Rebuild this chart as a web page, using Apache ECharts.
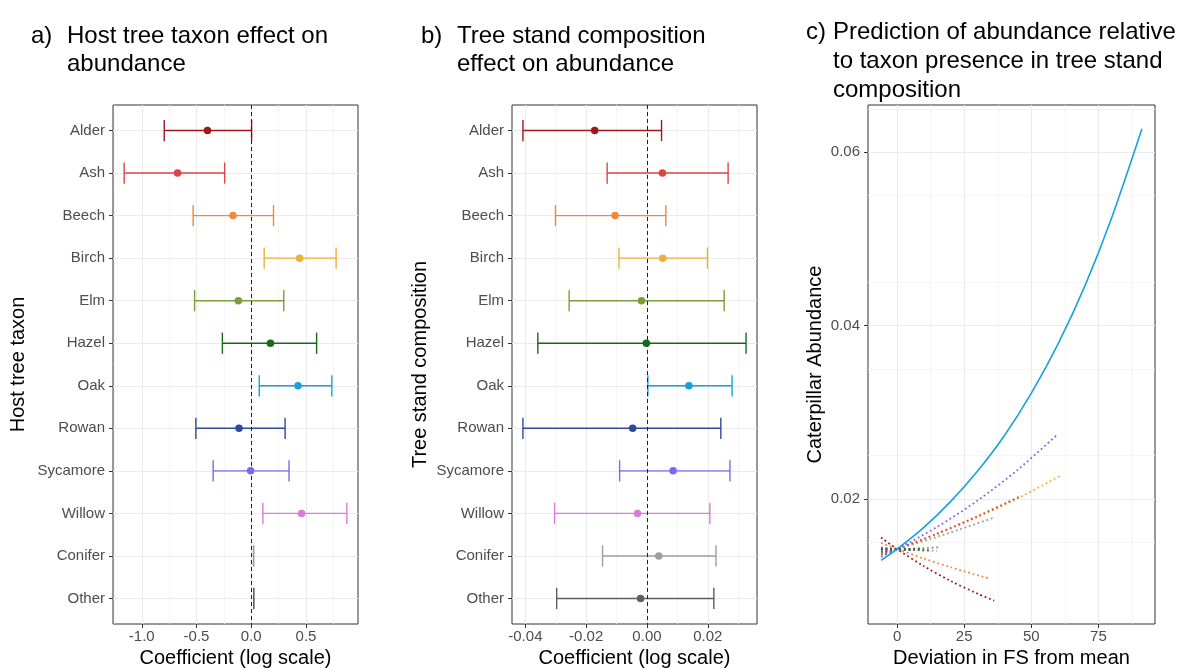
<!DOCTYPE html>
<html><head><meta charset="utf-8">
<script src="https://cdn.jsdelivr.net/npm/echarts@6/dist/echarts.min.js"></script>
<style>html,body{margin:0;padding:0;background:#fff}#c{width:1194px;height:668px}</style>
</head><body><div id="c"></div>
<script>
// ---------- data ----------
const taxa = ['Alder','Ash','Beech','Birch','Elm','Hazel','Oak','Rowan','Sycamore','Willow','Conifer','Other'];
// panel a: host tree taxon effect
const hostEst  = [-0.400,-0.673,-0.167, 0.442,-0.118, 0.175, 0.427,-0.112,-0.006, 0.460, null, null];
const hostLow  = [-0.795,-1.161,-0.531, 0.118,-0.518,-0.264, 0.073,-0.506,-0.348, 0.106, 0.021, 0.022];
const hostHigh = [ 0.003,-0.243, 0.203, 0.775, 0.297, 0.597, 0.736, 0.309, 0.345, 0.873, 0.021, 0.022];
// panel b: tree stand composition effect
const standEst  = [-0.0172, 0.0051,-0.0105, 0.0052,-0.0018,-0.0002, 0.0138,-0.0047, 0.0086,-0.0031, 0.0039,-0.0021];
const standLow  = [-0.0408,-0.0131,-0.0301,-0.0092,-0.0256,-0.0359, 0.0003,-0.0408,-0.0090,-0.0304,-0.0146,-0.0297];
const standHigh = [ 0.0048, 0.0267, 0.0062, 0.0199, 0.0254, 0.0326, 0.0280, 0.0243, 0.0273, 0.0207, 0.0227, 0.0220];
// tick values
const ticksA  = [-1.0,-0.5,0,0.5];
const ticksB  = [-0.04,-0.02,0,0.02];
const ticksCx = [0,25,50,75];
const minorCx = [12.5,37.5,62.5,87.5];
const ticksCy = [0.02,0.04,0.06];
const catIdx  = [0,1,2,3,4,5,6,7,8,9,10,11];
// panel c: predicted abundance vs deviation in FS
const predOak      = [[-5.96,0.0129],[0,0.0142],[10,0.0167],[20,0.0197],[30,0.0232],[40,0.0273],[50,0.0322],[60,0.0379],[70,0.0446],[80,0.0525],[91.2,0.0627]];
const predSycamore = [[-5.96,0.0133],[0,0.0142],[15,0.01677],[30,0.0198],[45,0.02337],[59.3,0.0273]];
const predBirch    = [[-5.96,0.01356],[0,0.0142],[15,0.01593],[30,0.01788],[45,0.02006],[60.8,0.02266]];
const predAsh      = [[-5.96,0.01356],[0,0.0142],[15,0.0160],[30,0.0180],[45.3,0.0202]];
const predConifer  = [[-5.96,0.01368],[0,0.0142],[12,0.01532],[24,0.01653],[36.2,0.01784]];
const predBeech    = [[-5.96,0.0149],[0,0.0142],[10,0.0131],[20,0.0121],[34.7,0.01075]];
const predAlder    = [[-5.96,0.01554],[0,0.0142],[10,0.01222],[20,0.01051],[30,0.00905],[36.2,0.00824]];
const predElm      = [[-5.96,0.01395],[0,0.0141],[15.6,0.0144]];
const predWillow   = [[-5.96,0.0144],[0,0.0142],[14.9,0.0140]];
const predHazel    = [[-5.96,0.01415],[0,0.0142],[9,0.01425]];
const predRowan    = [[-5.96,0.0143],[0,0.0142],[6,0.0141]];
const predOther    = [[-5.96,0.01385],[0,0.0141],[12,0.01405]];

// ---------- styles ----------
const taxonColors = ['#A0171B','#DC4545','#F2873A','#E8B23C','#7C9D3A','#17691A','#18A2D8','#2E4A98','#7B68EE','#DA7BDA','#9E9E9E','#5E5E5E'];
const FONT = 'Liberation Sans, Arial, Helvetica, sans-serif';
const tickCol = '#4D4D4D';
const gridCol = '#EBEBEB';

function errRender(params, api) {
  const lo = api.value(0), hi = api.value(1), yi = api.value(2);
  const color = taxonColors[yi];
  const p1 = api.coord([lo, yi]), p2 = api.coord([hi, yi]);
  const h = api.size([0, 0.25])[1];
  const st = {stroke: color, lineWidth: 1.4};
  return {type: 'group', children: [
    {type: 'line', shape: {x1: p1[0], y1: p1[1], x2: p2[0], y2: p2[1]}, style: st},
    {type: 'line', shape: {x1: p1[0], y1: p1[1]-h, x2: p1[0], y2: p1[1]+h}, style: st},
    {type: 'line', shape: {x1: p2[0], y1: p2[1]-h, x2: p2[0], y2: p2[1]+h}, style: st}
  ]};
}

function catYAxis(gridIndex, name, gap) {
  return {
    type: 'value', gridIndex, inverse: true, min: -0.6, max: 11.6,
    name, nameLocation: 'middle', nameGap: gap, nameRotate: 90,
    nameTextStyle: {color: '#000', fontSize: 20, fontFamily: FONT},
    axisLine: {show: false, onZero: false},
    axisTick: {show: true, length: 4, customValues: catIdx, lineStyle: {color: '#333'}},
    axisLabel: {customValues: catIdx, color: tickCol, fontSize: 15, fontFamily: FONT, margin: 8,
      formatter: v => taxa[Math.round(v)]},
    splitLine: {show: true, lineStyle: {color: gridCol, width: 1.1}}
  };
}
function valXAxis(gridIndex, min, max, ticks, dec, name) {
  return {
    type: 'value', gridIndex, min, max, position: 'bottom',
    name, nameLocation: 'middle', nameGap: 18,
    nameTextStyle: {color: '#000', fontSize: 20, fontFamily: FONT},
    axisLine: {show: false, onZero: false},
    axisTick: {show: true, length: 4, customValues: ticks, lineStyle: {color: '#333'}},
    axisLabel: {customValues: ticks, color: tickCol, fontSize: 15, fontFamily: FONT, margin: 5,
      formatter: v => (dec === null ? String(v) : Number(v).toFixed(dec))},
    splitLine: {show: true, lineStyle: {color: gridCol, width: 1.1}},
    minorTick: {show: false, splitNumber: 2},
    minorSplitLine: {show: dec !== null, lineStyle: {color: '#F2F2F2', width: 0.8}}
  };
}

const titleStyle = {color: '#000', fontSize: 24, fontWeight: 'normal', fontFamily: FONT, lineHeight: 28.5};

function forestSeries(idx, low, high, est) {
  return [
    {type: 'custom', xAxisIndex: idx, yAxisIndex: idx, renderItem: errRender, z: 2,
     data: low.map((l, i) => [l, high[i], i]),
     markLine: {silent: true, symbol: 'none', label: {show: false}, z: 3,
       lineStyle: {color: '#222', type: [4, 3], width: 1}, data: [{xAxis: 0}]}},
    {type: 'scatter', xAxisIndex: idx, yAxisIndex: idx, symbol: 'circle', symbolSize: 7.5, z: 4,
     data: est.map((e, i) => [e, i]).filter(d => d[0] !== null),
     itemStyle: {color: p => taxonColors[p.data[1]], opacity: 1}}
  ];
}

function predLine(data, colIdx, solid) {
  return {type: 'line', xAxisIndex: 2, yAxisIndex: 2, data, smooth: 0.3, symbol: 'none',
    z: solid ? 5 : 3,
    lineStyle: {color: taxonColors[colIdx], width: solid ? 1.6 : 1.8, type: solid ? 'solid' : [1.8, 2.8], cap: 'butt'}};
}

const gridBase = {show: true, borderColor: '#333', borderWidth: 1, backgroundColor: 'transparent',
  containLabel: false, outerBoundsMode: 'none'};

const option = {
  animation: false,
  backgroundColor: '#fff',
  title: [
    {text: 'a)', left: 31, top: 22, padding: 0, textStyle: titleStyle},
    {text: 'Host tree taxon effect on\nabundance', left: 67, top: 22, padding: 0, textStyle: titleStyle},
    {text: 'b)', left: 421, top: 22, padding: 0, textStyle: titleStyle},
    {text: 'Tree stand composition\neffect on abundance', left: 457, top: 22, padding: 0, textStyle: titleStyle},
    {text: 'c)', left: 806, top: 17.5, padding: 0, textStyle: Object.assign({}, titleStyle, {lineHeight: 29})},
    {text: 'Prediction of abundance relative\nto taxon presence in tree stand\ncomposition', left: 833, top: 17.5, padding: 0,
     textStyle: Object.assign({}, titleStyle, {lineHeight: 29})}
  ],
  grid: [
    Object.assign({left: 113, top: 105, width: 245, height: 519}, gridBase),
    Object.assign({left: 512, top: 105, width: 245, height: 519}, gridBase),
    Object.assign({left: 868, top: 105, width: 287, height: 519}, gridBase)
  ],
  xAxis: [
    valXAxis(0, -1.263, 0.975, ticksA, 1, 'Coefficient (log scale)'),
    valXAxis(1, -0.0444, 0.0362, ticksB, 2, 'Coefficient (log scale)'),
    valXAxis(2, -10.82, 96.06, ticksCx, null, 'Deviation in FS from mean'),
    {type: 'value', gridIndex: 2, min: -10.82, max: 96.06, position: 'top',
     axisLine: {show: false, onZero: false}, axisTick: {show: false, customValues: minorCx}, axisLabel: {show: false},
     splitLine: {show: true, lineStyle: {color: '#F2F2F2', width: 0.8}}}
  ],
  yAxis: [
    catYAxis(0, 'Host tree taxon', 85),
    catYAxis(1, 'Tree stand composition', 82),
    {type: 'value', gridIndex: 2, min: 0.00555, max: 0.06545, position: 'left',
     name: 'Caterpillar Abundance', nameLocation: 'middle', nameGap: 43, nameRotate: 90,
     nameTextStyle: {color: '#000', fontSize: 20, fontFamily: FONT},
     axisLine: {show: false, onZero: false},
     axisTick: {show: true, length: 4, customValues: ticksCy, lineStyle: {color: '#333'}},
     axisLabel: {customValues: ticksCy, color: tickCol, fontSize: 15, fontFamily: FONT, margin: 8,
       formatter: v => Number(v).toFixed(2)},
     splitLine: {show: true, lineStyle: {color: gridCol, width: 1.1}},
     minorTick: {show: false, splitNumber: 2},
     minorSplitLine: {show: true, lineStyle: {color: '#F2F2F2', width: 0.8}}}
  ],
  series: [
    ...forestSeries(0, hostLow, hostHigh, hostEst),
    ...forestSeries(1, standLow, standHigh, standEst),
    predLine(predAlder, 0), predLine(predBeech, 2), predLine(predConifer, 10),
    predLine(predBirch, 3), predLine(predAsh, 1), predLine(predSycamore, 8),
    predLine(predElm, 4), predLine(predWillow, 9), predLine(predHazel, 5),
    predLine(predRowan, 7), predLine(predOther, 11),
    predLine(predOak, 6, true)
  ]
};
const chart = echarts.init(document.getElementById('c'), null, {renderer: 'canvas'});
chart.setOption(option);
</script></body></html>
